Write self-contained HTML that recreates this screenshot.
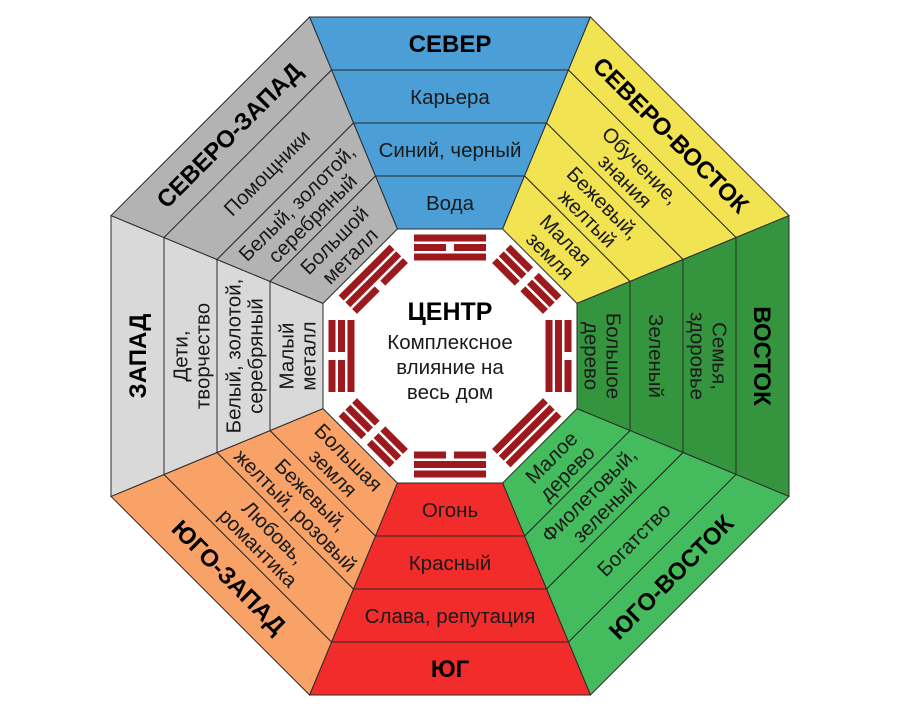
<!DOCTYPE html>
<html><head><meta charset="utf-8"><style>
html,body{margin:0;padding:0;background:#fff;}
svg{display:block;}
text{font-family:"Liberation Sans","DejaVu Sans",sans-serif;fill:#1a1a1a;text-anchor:middle;}
.b{font-weight:bold;font-size:24px;fill:#000;}
.t{font-size:20.5px;}
</style></head><body>
<svg width="900" height="726" viewBox="0 0 900 726" xmlns="http://www.w3.org/2000/svg">
<defs>
<g id="bands" stroke="#2a2a2a" stroke-width="1">
<polygon points="309.6,17 590.4,17 568.5,70 331.5,70"/>
<polygon points="331.5,70 568.5,70 546.5,123 353.5,123"/>
<polygon points="353.5,123 546.5,123 524.6,176 375.4,176"/>
<polygon points="375.4,176 524.6,176 502.6,229 397.4,229"/>
</g>
</defs>

<!-- N -->
<g fill="#4b9fd6"><use href="#bands"/></g>
<text class="b" x="450" y="52">СЕВЕР</text>
<text class="t" x="450" y="104">Карьера</text>
<text class="t" x="450" y="157">Синий, черный</text>
<text class="t" x="450" y="210">Вода</text>

<!-- NE -->
<g transform="rotate(45 450 356)">
<g fill="#f2e352"><use href="#bands"/></g>
<text class="b" x="450" y="52">СЕВЕРО-ВОСТОК</text>
<text class="t" x="450" y="93.5">Обучение,<tspan x="450" dy="22">знания</tspan></text>
<text class="t" x="450" y="146.5">Бежевый,<tspan x="450" dy="22">желтый</tspan></text>
<text class="t" x="450" y="199.5">Малая<tspan x="450" dy="22">земля</tspan></text>
</g>

<!-- E -->
<g transform="rotate(90 450 356)">
<g fill="#35953f"><use href="#bands"/></g>
<text class="b" x="450" y="52">ВОСТОК</text>
<text class="t" x="450" y="93.5">Семья,<tspan x="450" dy="22">здоровье</tspan></text>
<text class="t" x="450" y="157">Зеленый</text>
<text class="t" x="450" y="199.5">Большое<tspan x="450" dy="22">дерево</tspan></text>
</g>

<!-- SE -->
<g transform="rotate(135 450 356)">
<g fill="#44bb5c"><use href="#bands"/></g>
<text class="b" transform="rotate(180 450 43.5)" x="450" y="52">ЮГО-ВОСТОК</text>
<text class="t" transform="rotate(180 450 96.5)" x="450" y="104">Богатство</text>
<text class="t" transform="rotate(180 450 149.5)" x="450" y="146.5">Фиолетовый,<tspan x="450" dy="22">зеленый</tspan></text>
<text class="t" transform="rotate(180 450 202.5)" x="450" y="199.5">Малое<tspan x="450" dy="22">дерево</tspan></text>
</g>

<!-- S -->
<g transform="rotate(180 450 356)">
<g fill="#f22b2b"><use href="#bands"/></g>
<text class="b" transform="rotate(180 450 43.5)" x="450" y="52">ЮГ</text>
<text class="t" transform="rotate(180 450 96.5)" x="450" y="104">Слава, репутация</text>
<text class="t" transform="rotate(180 450 149.5)" x="450" y="157">Красный</text>
<text class="t" transform="rotate(180 450 202.5)" x="450" y="210">Огонь</text>
</g>

<!-- SW -->
<g transform="rotate(225 450 356)">
<g fill="#f8a268"><use href="#bands"/></g>
<text class="b" transform="rotate(180 450 43.5)" x="450" y="52">ЮГО-ЗАПАД</text>
<text class="t" transform="rotate(180 450 96.5)" x="450" y="93.5">Любовь,<tspan x="450" dy="22">романтика</tspan></text>
<text class="t" transform="rotate(180 450 149.5)" x="450" y="146.5">Бежевый,<tspan x="450" dy="22">желтый, розовый</tspan></text>
<text class="t" transform="rotate(180 450 202.5)" x="450" y="199.5">Большая<tspan x="450" dy="22">земля</tspan></text>
</g>

<!-- W -->
<g transform="rotate(270 450 356)">
<g fill="#d9d9d9"><use href="#bands"/></g>
<text class="b" x="450" y="52">ЗАПАД</text>
<text class="t" x="450" y="93.5">Дети,<tspan x="450" dy="22">творчество</tspan></text>
<text class="t" x="450" y="146.5">Белый, золотой,<tspan x="450" dy="22">серебряный</tspan></text>
<text class="t" x="450" y="199.5">Малый<tspan x="450" dy="22">металл</tspan></text>
</g>

<!-- NW -->
<g transform="rotate(315 450 356)">
<g fill="#b3b3b3"><use href="#bands"/></g>
<text class="b" x="450" y="52">СЕВЕРО-ЗАПАД</text>
<text class="t" x="450" y="104">Помощники</text>
<text class="t" x="450" y="146.5">Белый, золотой,<tspan x="450" dy="22">серебряный</tspan></text>
<text class="t" x="450" y="199.5">Большой<tspan x="450" dy="22">металл</tspan></text>
</g>

<!-- Trigrams -->
<g fill="#9c1a1e">
<g>
<rect x="414" y="234.5" width="72" height="7"/>
<rect x="414" y="244" width="32" height="7"/><rect x="454" y="244" width="32" height="7"/>
<rect x="414" y="253.5" width="72" height="7"/>
</g>
<g transform="rotate(45 450 356)">
<rect x="414" y="234.5" width="32" height="7"/><rect x="454" y="234.5" width="32" height="7"/>
<rect x="414" y="244" width="32" height="7"/><rect x="454" y="244" width="32" height="7"/>
<rect x="414" y="253.5" width="32" height="7"/><rect x="454" y="253.5" width="32" height="7"/>
</g>
<g transform="rotate(90 450 356)">
<rect x="414" y="234.5" width="32" height="7"/><rect x="454" y="234.5" width="32" height="7"/>
<rect x="414" y="244" width="72" height="7"/>
<rect x="414" y="253.5" width="72" height="7"/>
</g>
<g transform="rotate(135 450 356)">
<rect x="414" y="234.5" width="72" height="7"/>
<rect x="414" y="244" width="72" height="7"/>
<rect x="414" y="253.5" width="72" height="7"/>
</g>
<g transform="rotate(180 450 356)">
<rect x="414" y="234.5" width="72" height="7"/>
<rect x="414" y="244" width="72" height="7"/>
<rect x="414" y="253.5" width="32" height="7"/><rect x="454" y="253.5" width="32" height="7"/>
</g>
<g transform="rotate(225 450 356)">
<rect x="414" y="234.5" width="32" height="7"/><rect x="454" y="234.5" width="32" height="7"/>
<rect x="414" y="244" width="32" height="7"/><rect x="454" y="244" width="32" height="7"/>
<rect x="414" y="253.5" width="32" height="7"/><rect x="454" y="253.5" width="32" height="7"/>
</g>
<g transform="rotate(270 450 356)">
<rect x="414" y="234.5" width="32" height="7"/><rect x="454" y="234.5" width="32" height="7"/>
<rect x="414" y="244" width="32" height="7"/><rect x="454" y="244" width="32" height="7"/>
<rect x="414" y="253.5" width="72" height="7"/>
</g>
<g transform="rotate(315 450 356)">
<rect x="414" y="234.5" width="72" height="7"/>
<rect x="414" y="244" width="72" height="7"/>
<rect x="414" y="253.5" width="32" height="7"/><rect x="454" y="253.5" width="32" height="7"/>
</g>
</g>

<!-- Center -->
<text x="450" y="320" style="font-weight:bold;font-size:25px;fill:#000">ЦЕНТР</text>
<text class="t" x="450" y="349">Комплексное</text>
<text class="t" x="450" y="374">влияние на</text>
<text class="t" x="450" y="399">весь дом</text>
</svg>
</body></html>
